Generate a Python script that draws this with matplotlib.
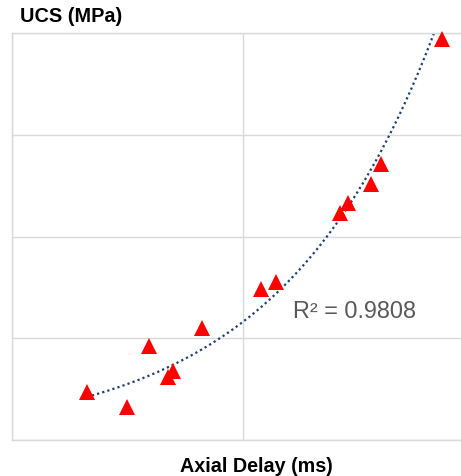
import numpy as np
import matplotlib
matplotlib.use("Agg")
import matplotlib.pyplot as plt

plt.rcParams['font.family'] = ['Liberation Sans', 'DejaVu Sans']

# Data (arbitrary units: grid every 50 ms, every 10 MPa)
axial_delay = [16.2, 24.8, 29.7, 33.8, 34.9, 41.2, 53.9, 57.1, 71.0, 72.8, 77.7, 79.9, 93.1]
ucs = [4.75, 3.20, 9.21, 6.19, 6.75, 10.98, 14.81, 15.56, 22.28, 23.32, 25.16, 27.13, 39.38]
x_grid = [0, 50, 100]
y_grid = [0, 10, 20, 30, 40]
r2_label = "R² = 0.9808"

W, H = 461, 476
fig = plt.figure(figsize=(W / 100, H / 100), dpi=100)
left, right, top, bottom = 12, 474, 33, 440
ax = fig.add_axes([left / W, 1 - bottom / H, (right - left) / W, (bottom - top) / H])

ax.set_xlim(x_grid[0], x_grid[-1])
ax.set_ylim(y_grid[0], y_grid[-1])
ax.set_xticks(x_grid)
ax.set_yticks(y_grid)
ax.tick_params(length=0, labelleft=False, labelbottom=False)
ax.grid(True, color='#d9d9d9', linewidth=1.0)
ax.set_axisbelow(True)
for s in ax.spines.values():
    s.set_color('#d9d9d9')
    s.set_linewidth(1.0)

# exponential trendline (log-linear least squares, as a spreadsheet does)
x = np.array(axial_delay)
y = np.array(ucs)
b, lna = np.polyfit(x, np.log(y), 1)
xs = np.linspace(x.min(), x.max(), 300)
ax.plot(xs, np.exp(lna + b * xs), color='#1f3f73', linewidth=1.6,
        linestyle=(0, (1, 1.4)), zorder=2)

ax.plot(x, y, linestyle='none', marker='^', markersize=11, color='#ff0000',
        markeredgewidth=0, zorder=3, clip_on=False)

fig.text(20 / W, 1 - 17 / H, "UCS (MPa)", fontsize=14.3, fontweight='bold',
         ha='left', va='center', color='#000000')
fig.text(256.5 / W, 1 - 467 / H, "Axial Delay (ms)", fontsize=14.2, fontweight='bold',
         ha='center', va='center', color='#000000')
fig.text(293 / W, 1 - 311 / H, r2_label, fontsize=16.8, ha='left', va='center',
         color='#595959')

fig.savefig("out.png", dpi=100)
